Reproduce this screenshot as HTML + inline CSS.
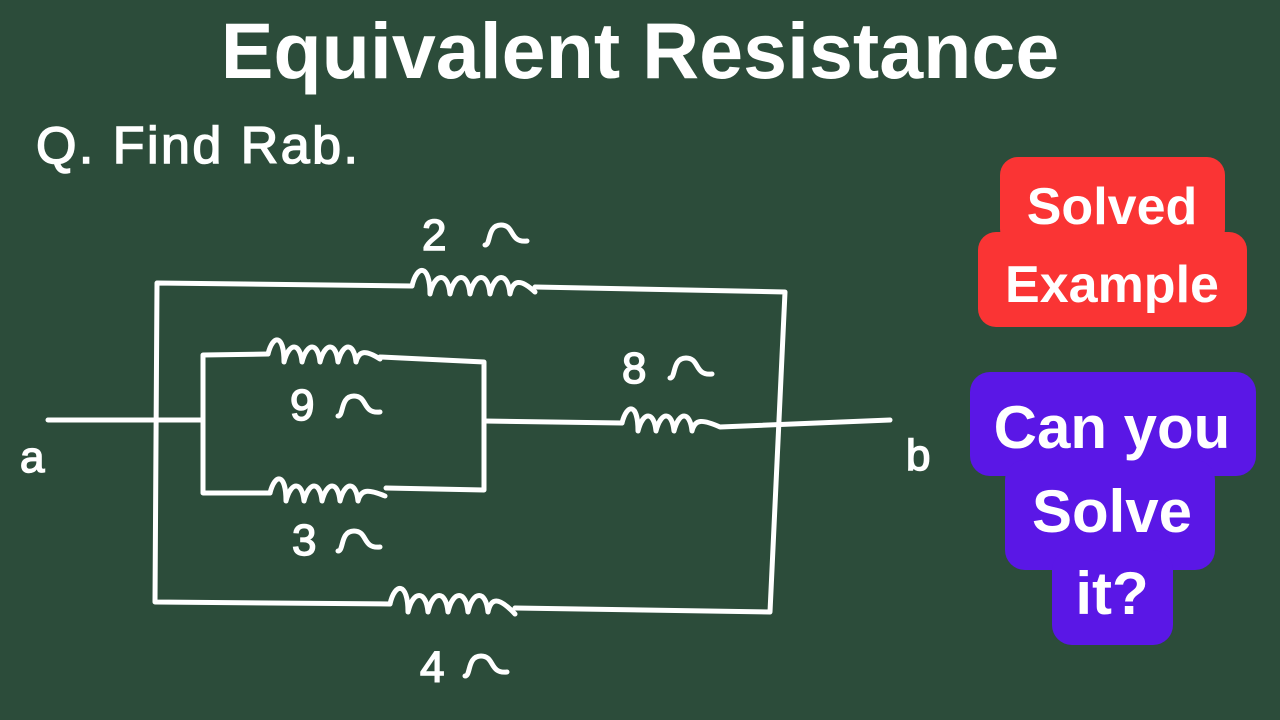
<!DOCTYPE html>
<html><head><meta charset="utf-8"><style>
html,body{margin:0;padding:0;width:1280px;height:720px;overflow:hidden;background:#2c4c3a;}
svg{position:absolute;left:0;top:0}
.t{font-family:"Liberation Sans",sans-serif;font-weight:bold;fill:#fff}
</style></head><body>
<svg width="1280" height="720" viewBox="0 0 1280 720">
<rect width="1280" height="720" fill="#2c4c3a"/>
<text class="t" x="640" y="78" font-size="79" text-anchor="middle">Equivalent Resistance</text>
<text x="36" y="163" font-family="Liberation Sans,sans-serif" font-size="52" fill="#fff" stroke="#fff" stroke-width="1.5" textLength="322">Q. Find Rab.</text>

<!-- badges -->
<g fill="#fa3434">
<rect x="1000" y="157" width="225" height="90" rx="18"/>
<rect x="978" y="232" width="269" height="95" rx="18"/>
</g>
<text class="t" x="1112" y="224" font-size="52" text-anchor="middle">Solved</text>
<text class="t" x="1112" y="302" font-size="52" text-anchor="middle">Example</text>
<g fill="#5a17e6">
<rect x="970" y="372" width="286" height="104" rx="20"/>
<rect x="1005" y="460" width="210" height="110" rx="20"/>
<rect x="1052" y="550" width="121" height="95" rx="20"/>
</g>
<text class="t" x="1112" y="448" font-size="60" text-anchor="middle">Can you</text>
<text class="t" x="1112" y="532" font-size="60" text-anchor="middle">Solve</text>
<text class="t" x="1112" y="614" font-size="60" text-anchor="middle">it?</text>

<g fill="none" stroke="#fff" stroke-width="5" stroke-linecap="round" stroke-linejoin="round">
<!-- outer -->
<path d="M412,286 L157,283 L155,602 L390,604"/>
<path d="M535,287 L785,292 L770,612 L515,608"/>
<path d="M412,286 c5,-22 18,-22 18,8 c5,-22 18,-22 20,0 c5,-22 18,-22 20,0 c5,-22 18,-22 20,0 c5,-22 18,-22 20,0 c3,-14 10,-16 25,-2"/>
<path d="M390,604 c5,-22 18,-22 18,8 c5,-22 18,-22 20,0 c5,-22 18,-22 20,0 c5,-22 18,-22 20,0 c5,-22 18,-22 20,0 c3,-14 10,-16 27,2"/>
<!-- inner box -->
<path d="M268,354 L203,355 L203,493 L270,493"/>
<path d="M380,357 L484,362 L484,490 L386,488"/>
<path d="M268,354 c5,-20 16,-20 16,8 c5,-20 16,-20 18,0 c5,-20 16,-20 18,0 c5,-20 16,-20 18,0 c5,-20 16,-20 18,0 c3,-12 10,-12 24,-3"/>
<path d="M270,493 c5,-20 16,-20 16,8 c5,-20 16,-20 18,0 c5,-20 16,-20 18,0 c5,-20 16,-20 18,0 c5,-20 16,-20 18,0 c3,-12 10,-12 27,-5"/>
<!-- wires -->
<path d="M48,420 L203,420"/>
<path d="M484,421 L622,423"/>
<path d="M622,423 c5,-20 16,-20 16,8 c5,-20 16,-20 18,0 c5,-20 16,-20 18,0 c5,-20 16,-20 18,0 c3,-12 10,-12 28,-4 L890,420"/>
<!-- ohm symbols -->
<path d="M485,245 c6,0 2,-20 16,-20 c14,0 8,18 26,16"/>
<path d="M338,416 c6,0 2,-20 16,-20 c14,0 8,18 26,16"/>
<path d="M670,378 c6,0 2,-20 16,-20 c14,0 8,18 26,16"/>
<path d="M338,551 c6,0 2,-20 16,-20 c14,0 8,18 26,16"/>
<path d="M465,676 c6,0 2,-20 16,-20 c14,0 8,18 26,16"/>
</g>
<g font-family="Liberation Sans,sans-serif" font-size="44" fill="#fff" stroke="#fff" stroke-width="1.5">
<text x="422" y="250">2</text>
<text x="290" y="420">9</text>
<text x="622" y="383">8</text>
<text x="292" y="555">3</text>
<text x="420" y="682">4</text>
<text x="20" y="472">a</text>
<text x="906" y="470">b</text>
</g>
</svg>
</body></html>
